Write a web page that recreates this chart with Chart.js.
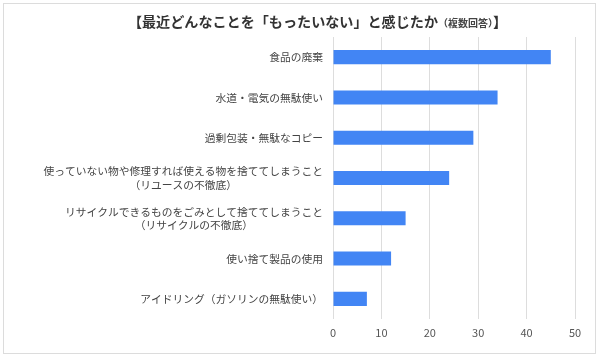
<!DOCTYPE html>
<html><head><meta charset="utf-8">
<script src="https://cdn.jsdelivr.net/npm/chart.js@4"></script>
<style>
html,body{margin:0;padding:0;background:#fff;width:600px;height:360px;overflow:hidden;}
#frame{position:absolute;left:3px;top:3px;width:593px;height:351px;border:1px solid #dcdcdc;box-sizing:border-box;}
#title{position:absolute;left:0;top:11px;width:635px;text-align:center;font-family:"Noto Sans CJK JP",sans-serif;font-size:14.1px;color:#333;white-space:nowrap;font-weight:bold;}
#title small{font-size:10px;font-weight:bold;color:#444;}
#wrap{position:absolute;left:0;top:0;width:600px;height:360px;}
</style></head>
<body>
<div id="frame"></div>
<div id="wrap"><canvas id="c" width="600" height="360"></canvas></div>
<div id="title">【最近どんなことを「もったいない」と感じたか<small>（複数回答）</small>】</div>
<script>
const categories = [
  "食品の廃棄",
  "水道・電気の無駄使い",
  "過剰包装・無駄なコピー",
  ["使っていない物や修理すれば使える物を捨ててしまうこと", "（リユースの不徹底）"],
  ["リサイクルできるものをごみとして捨ててしまうこと", "（リサイクルの不徹底）"],
  "使い捨て製品の使用",
  "アイドリング（ガソリンの無駄使い）"
];
const values = [45, 34, 29, 24, 15, 12, 7];
const xTicks = [0, 10, 20, 30, 40, 50];

const font = "'Noto Sans CJK JP', sans-serif";

// Draws y category labels: block right-aligned, lines centred within the block
const yLabelPlugin = {
  id: 'yLabels',
  afterDraw(chart) {
    const ys = chart.scales.y;
    const ctx = chart.ctx;
    const right = ys.right - 10;
    const lh = 13.5;
    ctx.save();
    ctx.font = "10.75px " + font;
    ctx.fillStyle = '#444';
    ctx.textBaseline = 'middle';
    chart.data.labels.forEach((lab, i) => {
      const lines = Array.isArray(lab) ? lab : [lab];
      const widths = lines.map(l => ctx.measureText(l).width);
      const w = Math.max(...widths);
      const cx = right - w / 2;
      const y0 = ys.getPixelForTick(i) - (lines.length - 1) * lh / 2;
      ctx.textAlign = 'center';
      lines.forEach((l, k) => ctx.fillText(l, cx, y0 + k * lh));
    });
    ctx.restore();
  }
};

new Chart(document.getElementById('c'), {
  type: 'bar',
  data: {
    labels: categories,
    datasets: [{
      data: values,
      backgroundColor: '#4285F4',
      borderWidth: 0,
      barPercentage: 0.35,
      categoryPercentage: 1.0
    }]
  },
  options: {
    indexAxis: 'y',
    responsive: false,
    animation: false,
    layout: { padding: { top: 37, right: 25, left: 0, bottom: 0 } },
    plugins: { legend: { display: false }, tooltip: { enabled: false }, title: { display: false } },
    scales: {
      x: {
        min: 0, max: 50,
        afterBuildTicks: s => { s.ticks = xTicks.map(v => ({ value: v })); },
        afterFit: s => { s.height = 41; },
        grid: { color: '#dddddd', drawTicks: false },
        border: { display: false },
        ticks: { padding: 7, color: '#555', font: { family: font, size: 11 } }
      },
      y: {
        afterFit: s => { s.width = 333; },
        grid: { display: false, drawTicks: false },
        border: { display: false },
        ticks: { display: false, autoSkip: false }
      }
    }
  },
  plugins: [yLabelPlugin]
});
</script>
</body></html>
